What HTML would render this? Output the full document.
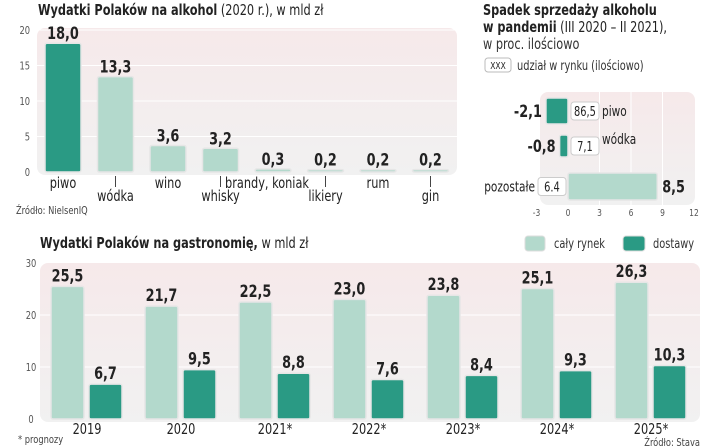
<!DOCTYPE html>
<html><head><meta charset="utf-8"><style>
body{margin:0;background:#fff;}
svg{display:block;font-family:"DejaVu Sans Condensed","Liberation Sans Narrow","Liberation Sans",sans-serif;}
</style></head><body>
<svg id="c" width="720" height="448" viewBox="0 0 720 448" xmlns="http://www.w3.org/2000/svg">
<defs>
<linearGradient id="bg" x1="0" y1="0" x2="0" y2="1"><stop offset="0" stop-color="#f6e9ea"/><stop offset="1" stop-color="#f1f1f1"/></linearGradient>
</defs>
<text x="38" y="15" font-size="15" fill="#222"><tspan font-weight="bold">Wydatki Polaków na alkohol</tspan> (2020 r.), w mld zł</text>
<text x="483" y="15" font-size="15" font-weight="bold" fill="#222">Spadek sprzedaży alkoholu</text>
<text x="483" y="32" font-size="15" fill="#222"><tspan font-weight="bold">w pandemii</tspan> (III 2020 – II 2021),</text>
<text x="483" y="49" font-size="15" fill="#333">w proc. ilościowo</text>
<rect x="485" y="58" width="26" height="14" rx="3" fill="#fff" stroke="#bbb"/>
<text x="498" y="69" font-size="10" text-anchor="middle" fill="#222">XXX</text>
<text x="517" y="70" font-size="13" fill="#333">udział w rynku (ilościowo)</text>
<text x="40" y="248" font-size="15" fill="#222"><tspan font-weight="bold">Wydatki Polaków na gastronomię,</tspan> w mld zł</text>
<rect x="525" y="236" width="20" height="15" rx="3" fill="#b3d9cc" stroke="#ddd"/>
<text x="554" y="248" font-size="13" fill="#333">cały rynek</text>
<rect x="623" y="236" width="22" height="15" rx="3" fill="#2a9a84" stroke="#ddd"/>
<text x="653" y="248" font-size="13" fill="#333">dostawy</text>
<text x="16" y="214" font-size="11" fill="#444">Źródło: NielsenIQ</text>
<text x="18" y="443" font-size="11" fill="#444">* prognozy</text>
<text x="700" y="446" font-size="11" fill="#444" text-anchor="end">Źródło: Stava</text>
</svg>
<script>
const alcCats=["piwo","wódka","wino","whisky","brandy, koniak","likiery","rum","gin"];
const alcVals=[18.0,13.3,3.6,3.2,0.3,0.2,0.2,0.2];
const alcTicks=[0,5,10,15,20];
const decCats=["piwo","wódka","pozostałe"];
const decVals=[-2.1,-0.8,8.5];
const decShare=["86,5","7,1","6.4"];
const decTicks=[-3,0,3,6,9,12];
const gYears=["2019","2020","2021*","2022*","2023*","2024*","2025*"];
const gAll=[25.5,21.7,22.5,23.0,23.8,25.1,26.3];
const gDel=[6.7,9.5,8.8,7.6,8.4,9.3,10.3];
const gTicks=[0,10,20,30];

const svg=document.getElementById('c');
const NS="http://www.w3.org/2000/svg";
function el(t,a,txt){const e=document.createElementNS(NS,t);for(const k in a)e.setAttribute(k,a[k]);if(txt!==undefined)e.textContent=txt;svg.appendChild(e);return e;}
const fmt=v=>v.toFixed(1).replace('.',',');
const LIGHT="#b3d9cc",DARK="#2a9a84";

// Chart 1
const y1=v=>172-v*7.1, x1=i=>45+i*52.5;
let r=el('rect',{x:37,y:28,width:420,height:147,rx:8,fill:"url(#bg)"});

alcTicks.forEach(t=>{
 if(t>0){let l=el('line',{x1:37,x2:457,y1:y1(t),y2:y1(t),stroke:"#fff","stroke-width":1});}
 let e=el('text',{x:30,y:y1(t)+4,"font-size":11,fill:"#555","text-anchor":"end"},t);
 
});
alcCats.forEach((c,i)=>{
 const v=alcVals[i],x=x1(i);
 let b=el('rect',{x:x,y:y1(v)-1,width:36,height:Math.max(172-y1(v)+1,2),rx:2,fill:i===0?DARK:LIGHT,stroke:"#e6e6e6","stroke-width":1.5});
 
 let t=el('text',{x:x+18,y:y1(v)-5,"font-size":17,"font-weight":"bold",fill:"#222","text-anchor":"middle"},fmt(v));
 
 const low=i%2===1&&i!==4;
 if(low){let l=el('line',{x1:x+18,x2:x+18,y1:176,y2:187,stroke:"#444"});}
 let lx=i===4?x+12:x+18;
 let lb=el('text',{x:lx,y:low?201:188,"font-size":15,fill:"#222","text-anchor":"middle"},c);
 
});

// Chart 2
const x2=v=>568+v*10.5, rowY=[98,135,173], rowH=[26,22,27];
r=el('rect',{x:540,y:92,width:155,height:113,rx:8,fill:"url(#bg)"});

decTicks.forEach(t=>{
 if(t>0&&t<12){let l=el('line',{x1:x2(t),x2:x2(t),y1:92,y2:205,stroke:"#fff"});}
 let e=el('text',{x:x2(t),y:216,"font-size":10,fill:"#555","text-anchor":"middle"},t);
 
});
decCats.forEach((c,i)=>{
 const v=decVals[i],y=rowY[i],h=rowH[i];
 const xa=Math.min(x2(0),x2(v)),w=Math.abs(x2(v)-x2(0));
 let b=el('rect',{x:xa,y:y,width:w,height:h,rx:2,fill:v<0?DARK:LIGHT,stroke:"#e6e6e6","stroke-width":1.5});
 
 let tx=v<0?x2(v)-4:x2(v)+5;
 let t=el('text',{x:tx,y:y+h/2+6,"font-size":17,"font-weight":"bold",fill:"#222","text-anchor":v<0?"end":"start"},fmt(v));
 
 let bx=v<0?571:538, bw=28;
 let bb=el('rect',{x:bx,y:y+h/2-9,width:bw,height:18,rx:3,fill:"#fff",stroke:"#ccc"});
 
 let st=el('text',{x:bx+bw/2,y:y+h/2+5,"font-size":13,fill:"#222","text-anchor":"middle"},decShare[i]);
 
 let lx=v<0?602:535, ly=i===0?y+h/2+5:(i===1?y+9:y+h/2+5);
 let lb=el('text',{x:lx,y:ly,"font-size":14,fill:"#222","text-anchor":v<0?"start":"end"},c);
 
});

// Chart 3
const y3=v=>419-v*5.2, gx=i=>51+i*94;
r=el('rect',{x:40,y:263,width:660,height:159,rx:8,fill:"url(#bg)"});

gTicks.forEach(t=>{
 if(t>0&&t<30){let l=el('line',{x1:40,x2:700,y1:y3(t),y2:y3(t),stroke:"#fff"});}
 let e=el('text',{x:31,y:y3(t)+4,"font-size":11,fill:"#555","text-anchor":"middle"},t);
 
});
gYears.forEach((yr,i)=>{
 const x=gx(i);
 [[gAll[i],LIGHT,x,'all'],[gDel[i],DARK,x+38,'delivery']].forEach(([v,c,bx,nm])=>{
  let b=el('rect',{x:bx,y:y3(v),width:33,height:419-y3(v),rx:2,fill:c,stroke:"#e6e6e6","stroke-width":1.5});
  
  let t=el('text',{x:bx+16.5,y:y3(v)-5,"font-size":17,"font-weight":"bold",fill:"#222","text-anchor":"middle"},fmt(v));
  
 });
 let lb=el('text',{x:x+36,y:434,"font-size":15,fill:"#222","text-anchor":"middle"},yr);
 
});

// condense all text horizontally (narrow font look)
svg.querySelectorAll('text').forEach(t=>{
 const x=parseFloat(t.getAttribute('x'));
 t.setAttribute('transform',`translate(${x},0) scale(0.84,1) translate(${-x},0)`);
});
</script>
</body></html>
